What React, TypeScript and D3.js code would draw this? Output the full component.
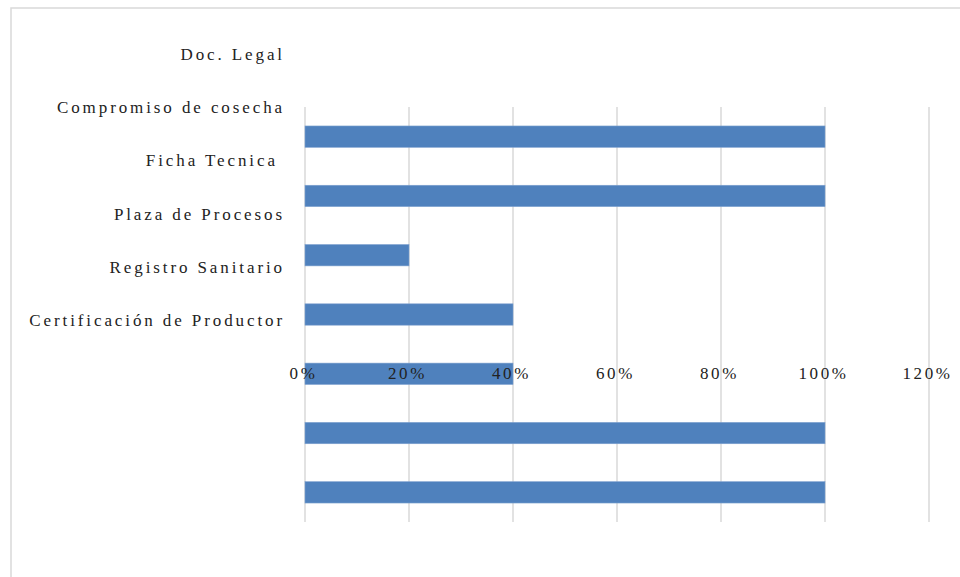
import React from "react";
import * as d3 from "d3";

const labelCategories = [
  "Doc. Legal",
  "Compromiso de cosecha",
  "Ficha Tecnica ",
  "Plaza de Procesos",
  "Registro Sanitario",
  "Certificación de Productor",
];
const barIds = ["b1", "b2", "b3", "b4", "b5", "b6", "b7"];
const barValues = [1.0, 1.0, 0.2, 0.4, 0.4, 1.0, 1.0];
const tickValues = [0, 0.2, 0.4, 0.6, 0.8, 1.0, 1.2];

const W = 960;
const H = 577;
const FONT = "'Liberation Serif', 'Times New Roman', serif";

export default function App() {
  const x = d3.scaleLinear().domain([0, 1.2]).range([305, 929]);
  const yBars = d3
    .scaleBand<string>()
    .domain(barIds)
    .range([107, 522])
    .paddingInner(0.64)
    .paddingOuter(0.32);
  const yLabels = d3
    .scaleBand<string>()
    .domain(labelCategories)
    .range([27, 347]);
  const fmt = d3.format(".0%");

  return (
    <svg
      width={W}
      height={H}
      style={{ position: "absolute", left: 0, top: 0, display: "block", background: "#fff" }}
    >
      <rect x={11} y={8} width={W + 20} height={H + 20} fill="#fff" stroke="#d9d9d9" strokeWidth={1.5} />
      {tickValues.map((t) => (
        <line
          key={"g" + t}
          x1={x(t)}
          x2={x(t)}
          y1={107}
          y2={522}
          stroke="#d9d9d9"
          strokeWidth={1.5}
        />
      ))}
      {barIds.map((id, i) => (
        <rect
          key={id}
          x={x(0)}
          y={yBars(id)}
          width={x(barValues[i]) - x(0)}
          height={yBars.bandwidth()}
          fill="#4f81bd"
          stroke="#7ea1cf"
          strokeWidth={0.6}
        />
      ))}
      {tickValues.map((t) => (
        <text
          key={"t" + t}
          x={x(t)}
          y={379}
          dx={-1.5}
          textAnchor="middle"
          style={{ fontFamily: FONT, fontSize: 17, letterSpacing: 2.6 }}
          fill="#222"
        >
          {fmt(t)}
        </text>
      ))}
      {labelCategories.map((c) => (
        <text
          key={c}
          x={285}
          y={(yLabels(c) as number) + yLabels.bandwidth() / 2 + 6}
          textAnchor="end"
          style={{ fontFamily: FONT, fontSize: 17, letterSpacing: 2.9, whiteSpace: "pre" }}
          fill="#222"
        >
          {c}
        </text>
      ))}
    </svg>
  );
}
